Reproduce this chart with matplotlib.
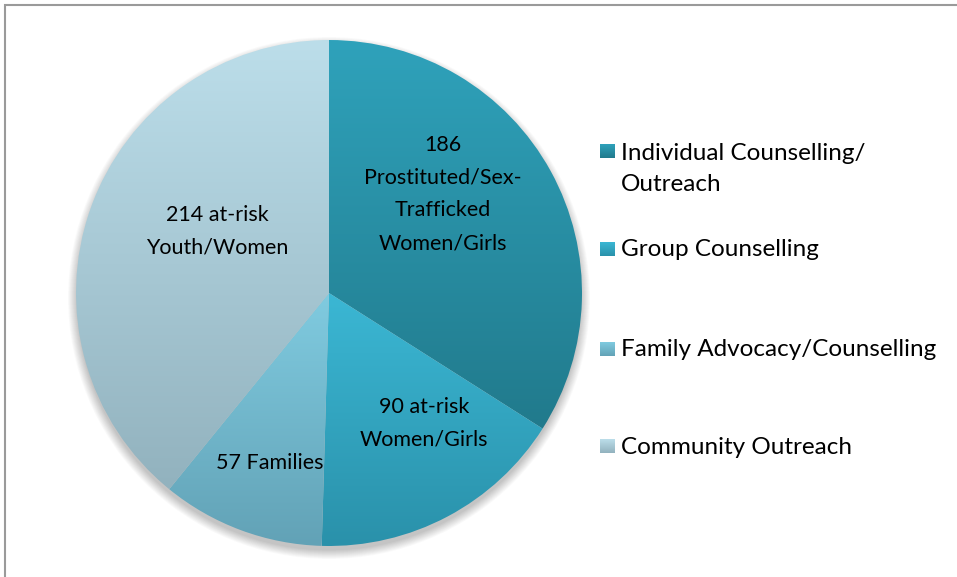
import numpy as np
import matplotlib.pyplot as plt
from matplotlib.colors import to_rgb
from matplotlib.patches import Rectangle, Circle

# Data
categories = ["Individual Counselling/\nOutreach", "Group Counselling",
              "Family Advocacy/Counselling", "Community Outreach"]
values = [186, 90, 57, 214]
slice_labels = ["186\nProstituted/Sex-\nTrafficked\nWomen/Girls",
                "90 at-risk\nWomen/Girls",
                "57 Families",
                "214 at-risk\nYouth/Women"]
# gradient colours (top, bottom) per slice
grad_top = ["#2fa2bb", "#3bb7d4", "#80cbe0", "#bcdeea"]
grad_bot = ["#217a8c", "#2a91aa", "#62a2b6", "#92b2be"]

W, H = 957, 577
cx, cy, r = 329, H - 293, 253

plt.rcParams['font.family'] = ['Lato', 'DejaVu Sans']

fig = plt.figure(figsize=(W / 100, H / 100), dpi=100)
ax = fig.add_axes([0, 0, 1, 1])

# soft shadow under the pie
for i in range(12):
    ax.add_patch(Circle((cx, cy - 5), r + 8 - i * 0.8, color="black",
                        alpha=0.018, lw=0, zorder=0))

wedges, _ = ax.pie(values, center=(cx, cy), radius=r, startangle=90,
                   counterclock=False, frame=True,
                   wedgeprops=dict(linewidth=0))


def grad_img(c1, c2, n=256):
    a = np.array(to_rgb(c1))
    b = np.array(to_rgb(c2))
    t = np.linspace(0, 1, n)[:, None]
    return (a * (1 - t) + b * t)[:, None, :]


for w, c1, c2 in zip(wedges, grad_top, grad_bot):
    w.set_facecolor("none")
    bb = w.get_path().get_extents(w.get_patch_transform())
    im = ax.imshow(grad_img(c1, c2), extent=(bb.x0, bb.x1, bb.y0, bb.y1),
                   origin="upper", aspect="auto", zorder=1,
                   interpolation="bilinear")
    im.set_clip_path(w)

# slice labels (centre positions, image pixel coords)
label_pos = [(443, 194), (424, 423), (270, 463), (217, 231)]
for txt, (x, y) in zip(slice_labels, label_pos):
    ax.text(x, H - y, txt, ha="center", va="center", fontsize=15.5,
            color="black", linespacing=1.8, zorder=3)

# legend
leg_y = [151, 249, 349, 446]
for cat, y, c1, c2 in zip(categories, leg_y, grad_top, grad_bot):
    ax.imshow(grad_img(c1, c2), extent=(600, 615, H - y - 7, H - y + 7),
              origin="upper", aspect="auto", zorder=3)
    if "\n" in cat:
        ax.text(621, H - y + 8, cat, ha="left", va="top", fontsize=17.5,
                linespacing=1.6, zorder=3)
    else:
        ax.text(621, H - y - 1, cat, ha="left", va="center", fontsize=17.5,
                zorder=3)

# outer frame
ax.add_patch(Rectangle((5, -20), W + 40, H - 5 + 20, fill=False,
                       edgecolor="#9a9a9a", lw=1.5, zorder=4))

ax.set_xlim(0, W)
ax.set_ylim(0, H)
ax.set_aspect("auto")
ax.axis("off")

fig.savefig("out.png", dpi=100)
